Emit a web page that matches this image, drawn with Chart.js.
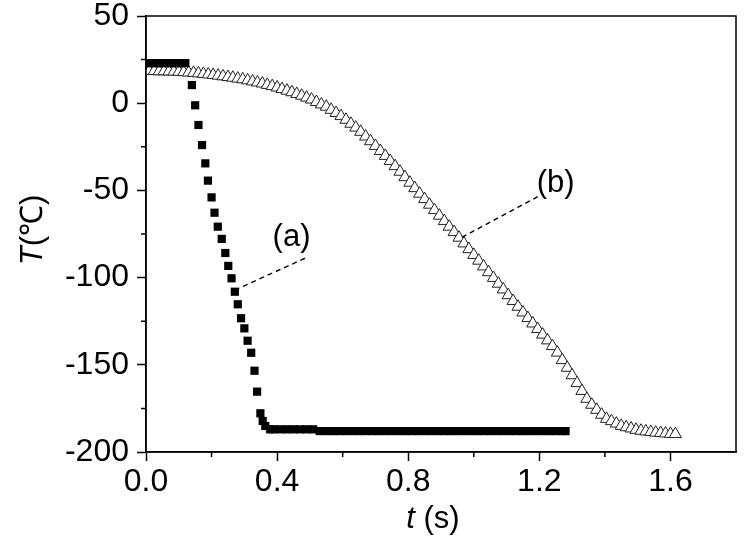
<!DOCTYPE html>
<html>
<head>
<meta charset="utf-8">
<script src="https://cdn.jsdelivr.net/npm/chart.js@4.4.1/dist/chart.umd.min.js"></script>
<style>
  html, body { margin: 0; padding: 0; background: #fff; }
  #wrap { width: 744px; height: 537px; }
</style>
</head>
<body>
<div id="wrap"><canvas id="chart" width="744" height="537"></canvas></div>
<script>
// ---- data ----
// (a) filled squares
const timeA = [
  0.01, 0.02, 0.03, 0.04, 0.05, 0.06, 0.07, 0.08, 0.09, 0.10, 0.11, 0.12,
  0.140, 0.150, 0.160, 0.171, 0.181, 0.189, 0.200, 0.209, 0.219, 0.231, 0.242, 0.251,
  0.261, 0.271, 0.280, 0.290, 0.300, 0.310, 0.321, 0.331, 0.339, 0.349, 0.356, 0.364, 0.379,
  0.39, 0.41, 0.43, 0.45, 0.47, 0.49, 0.51,
  0.53, 0.55, 0.57, 0.59, 0.61, 0.63, 0.65, 0.67, 0.69, 0.71, 0.73, 0.75, 0.77, 0.79,
  0.81, 0.83, 0.85, 0.87, 0.89, 0.91, 0.93, 0.95, 0.97, 0.99, 1.01, 1.03, 1.05, 1.07,
  1.09, 1.11, 1.13, 1.15, 1.17, 1.19, 1.21, 1.23, 1.25, 1.27, 1.28
];
const tempA = [
  23, 23, 23, 23, 23, 23, 23, 23, 23, 23, 23, 23,
  10.4, -1.2, -12.5, -24.0, -34.5, -44.4, -54.0, -62.8, -70.8, -77.8, -85.9, -93.3,
  -100.4, -108.1, -115.3, -123.3, -129.1, -136.2, -143.1, -153.4, -165.4, -177.8, -182.2, -185.1, -187.0,
  -187.0, -187.0, -187.0, -187.0, -187.0, -187.0, -187.0,
  -188, -188, -188, -188, -188, -188, -188, -188, -188, -188, -188, -188, -188, -188,
  -188, -188, -188, -188, -188, -188, -188, -188, -188, -188, -188, -188, -188, -188,
  -188, -188, -188, -188, -188, -188, -188, -188, -188, -188, -188
];

// (b) open triangles
const timeB = [
  0.010, 0.025, 0.040, 0.055, 0.070, 0.085, 0.100, 0.115, 0.130, 0.145,
  0.160, 0.175, 0.190, 0.205, 0.220, 0.235, 0.250, 0.265, 0.280, 0.295,
  0.310, 0.325, 0.340, 0.355, 0.370, 0.385, 0.400, 0.415, 0.430, 0.445,
  0.460, 0.475, 0.490, 0.505, 0.520, 0.535, 0.550, 0.565, 0.580, 0.595,
  0.610, 0.625, 0.640, 0.655, 0.670, 0.685, 0.700, 0.715, 0.730, 0.745,
  0.760, 0.775, 0.790, 0.805, 0.820, 0.835, 0.850, 0.865, 0.880, 0.895,
  0.910, 0.925, 0.940, 0.955, 0.970, 0.985, 1.000, 1.015, 1.030, 1.045,
  1.060, 1.075, 1.090, 1.105, 1.120, 1.135, 1.150, 1.165, 1.180, 1.195,
  1.210, 1.225, 1.240, 1.255, 1.270, 1.285, 1.300, 1.315, 1.330, 1.345,
  1.360, 1.375, 1.390, 1.405, 1.420, 1.435, 1.450, 1.465, 1.480, 1.495,
  1.510, 1.525, 1.540, 1.555, 1.570, 1.585, 1.600, 1.615
];
const tempB = [
  18.5, 18.4, 18.3, 18.3, 18.2, 18.1, 18.0, 17.8, 17.6, 17.4,
  17.1, 16.8, 16.5, 16.2, 15.8, 15.4, 15.0, 14.6, 14.1, 13.7,
  13.1, 12.5, 11.9, 11.3, 10.5, 9.8, 9.0, 8.1, 7.2, 6.3,
  5.3, 4.3, 3.2, 2.1, 0.7, -0.7, -2.0, -3.8, -5.6, -7.4,
  -9.5, -11.8, -14.0, -16.4, -19.1, -21.8, -24.5, -27.4, -30.2, -33.1,
  -36.1, -39.3, -42.4, -45.6, -48.7, -51.9, -55.0, -58.2, -61.3, -64.5,
  -67.6, -70.8, -73.9, -77.1, -80.4, -83.7, -87.0, -90.3, -93.6, -96.9,
  -100.2, -103.5, -106.8, -110.1, -113.4, -116.7, -120.0, -123.2, -126.3, -129.5,
  -132.7, -136.0, -139.3, -143.0, -147.3, -151.7, -156.0, -160.5, -165.0, -169.5,
  -172.9, -175.8, -178.6, -181.0, -182.3, -183.7, -185.0, -185.8, -186.5, -187.3,
  -187.8, -188.2, -188.5, -188.9, -189.1, -189.4, -189.6, -189.7
];

const seriesNames = ['(a)', '(b)'];
const xTitle = ['t', ' (s)'];
const yTitle = ['T', '(\u2103)'];

// label anchor / leader line ends, in data units
const callouts = [
  { text: seriesNames[0], at: [0.444, -76.7], from: [0.485, -88.9], to: [0.284, -106.1] },
  { text: seriesNames[1], at: [1.25, -45.8], from: [1.195, -53.6], to: [0.958, -77.5] }
];

const FONT = "'Liberation Sans', Arial, sans-serif";

function pairs(xs, ys) { return xs.map((x, i) => ({ x: x, y: ys[i] })); }

// box, minor ticks, callouts, axis titles
const extras = {
  id: 'extras',
  afterDraw(chart) {
    const { ctx, chartArea: a, scales } = chart;
    const sx = scales.x, sy = scales.y;
    ctx.save();
    ctx.strokeStyle = '#000';
    ctx.lineWidth = 1.5;
    ctx.strokeRect(a.left, a.top, a.right - a.left, a.bottom - a.top);

    // minor ticks halfway between majors
    ctx.beginPath();
    const xt = sx.ticks.map(t => t.value);
    for (let i = 0; i < xt.length - 1; i++) {
      const px = sx.getPixelForValue((xt[i] + xt[i + 1]) / 2);
      ctx.moveTo(px, a.bottom); ctx.lineTo(px, a.bottom + 5);
    }
    const yt = sy.ticks.map(t => t.value);
    for (let i = 0; i < yt.length - 1; i++) {
      const py = sy.getPixelForValue((yt[i] + yt[i + 1]) / 2);
      ctx.moveTo(a.left, py); ctx.lineTo(a.left - 5, py);
    }
    ctx.stroke();

    // callouts
    ctx.lineWidth = 1.4;
    ctx.setLineDash([5, 4]);
    callouts.forEach(c => {
      ctx.beginPath();
      ctx.moveTo(sx.getPixelForValue(c.from[0]), sy.getPixelForValue(c.from[1]));
      ctx.lineTo(sx.getPixelForValue(c.to[0]), sy.getPixelForValue(c.to[1]));
      ctx.stroke();
    });
    ctx.setLineDash([]);
    ctx.fillStyle = '#000';
    ctx.font = '31px ' + FONT;
    ctx.textAlign = 'center';
    ctx.textBaseline = 'middle';
    callouts.forEach(c => {
      ctx.fillText(c.text, sx.getPixelForValue(c.at[0]), sy.getPixelForValue(c.at[1]));
    });

    // axis titles, italic symbol + upright unit
    ctx.textAlign = 'left';
    ctx.textBaseline = 'alphabetic';
    const mixed = (parts, cx, cy) => {
      const fonts = ['italic 31px ' + FONT, '31px ' + FONT];
      let w = 0;
      parts.forEach((p, i) => { ctx.font = fonts[i]; w += ctx.measureText(p).width; });
      let x = cx - w / 2;
      parts.forEach((p, i) => { ctx.font = fonts[i]; ctx.fillText(p, x, cy); x += ctx.measureText(p).width; });
    };
    mixed(xTitle, (a.left + a.right) / 2 - 8, 528);
    ctx.translate(42, (a.top + a.bottom) / 2 - 4);
    ctx.rotate(-Math.PI / 2);
    mixed(yTitle, 0, 0);
    ctx.restore();
  }
};

new Chart(document.getElementById('chart'), {
  type: 'scatter',
  data: {
    datasets: [
      {
        label: seriesNames[0],
        data: pairs(timeA, tempA),
        pointStyle: 'rect',
        pointRadius: 5.8,
        backgroundColor: '#000',
        borderColor: '#000',
        borderWidth: 0
      },
      {
        label: seriesNames[1],
        data: pairs(timeB, tempB),
        pointStyle: 'triangle',
        pointRadius: 7,
        backgroundColor: '#fff',
        borderColor: '#222',
        borderWidth: 1
      }
    ]
  },
  options: {
    responsive: false,
    animation: false,
    events: [],
    layout: { padding: { top: 16, right: 2, left: 0, bottom: 0 } },
    plugins: { legend: { display: false }, tooltip: { enabled: false } },
    scales: {
      x: {
        type: 'linear',
        min: 0, max: 1.8,
        border: { display: true, color: '#000', width: 1.5 },
        grid: { drawOnChartArea: false, tickLength: 9, tickColor: '#000', tickWidth: 1.5 },
        ticks: {
          stepSize: 0.4, includeBounds: false, color: '#000', padding: 2,
          maxRotation: 0, autoSkip: false,
          font: { family: FONT, size: 32 },
          callback: v => v.toFixed(1)
        },
        afterFit: s => { s.height = 85; s.paddingLeft = 0; s.paddingRight = 0; }
      },
      y: {
        min: -200, max: 50,
        border: { display: true, color: '#000', width: 1.5 },
        grid: { drawOnChartArea: false, tickLength: 9, tickColor: '#000', tickWidth: 1.5 },
        ticks: {
          stepSize: 50, color: '#000', padding: 8, autoSkip: false,
          font: { family: FONT, size: 32 }
        },
        afterFit: s => { s.width = 146; s.paddingTop = 0; s.paddingBottom = 0; }
      }
    }
  },
  plugins: [extras]
});
</script>
</body>
</html>
